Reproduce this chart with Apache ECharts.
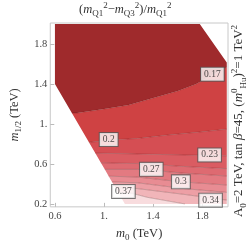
<!DOCTYPE html>
<html><head><meta charset="utf-8">
<script src="https://cdn.jsdelivr.net/npm/echarts@6/dist/echarts.min.js"></script>
<style>html,body{margin:0;padding:0;background:#fff}#c{width:249px;height:247px}</style>
</head><body><div id="c"></div>
<script>
// ---- data (TeV) ----
const xTicks = [0.6, 1.0, 1.4, 1.8];
const yTicks = [0.2, 0.6, 1.0, 1.4, 1.8];
const contourLevels = [0.17, 0.20, 0.23, 0.25, 0.27, 0.30, 0.32, 0.34, 0.37];
const c017 = [[0.55,1.11],[0.78,1.11],[1.0,1.15],[1.2,1.19],[1.4,1.26],[1.6,1.33],[1.75,1.40],[1.88,1.49],[2.05,1.60]];
const c020 = [[0.55,0.81],[0.86,0.815],[1.12,0.845],[1.27,0.855],[1.52,0.89],[1.78,0.92],[2.05,0.955]];
const c023 = [[0.55,0.71],[0.89,0.71],[1.27,0.70],[1.65,0.69],[2.05,0.68]];
const c025 = [[0.55,0.615],[0.94,0.613],[1.27,0.604],[1.65,0.575],[2.05,0.55]];
const c027 = [[0.55,0.55],[0.97,0.546],[1.27,0.546],[1.385,0.537],[1.65,0.508],[2.05,0.475]];
const c030 = [[0.55,0.48],[1.01,0.479],[1.27,0.469],[1.63,0.421],[2.05,0.385]];
const c032 = [[0.55,0.42],[1.045,0.421],[1.27,0.412],[1.65,0.354],[2.05,0.31]];
const c034 = [[0.55,0.365],[1.075,0.363],[1.27,0.354],[1.65,0.296],[2.05,0.23]];
const c037 = [[0.55,0.32],[1.1,0.315],[1.23,0.306],[1.35,0.267],[1.57,0.219],[1.8,0.17],[2.05,0.12]];
const contours = [c017, c020, c023, c025, c027, c030, c032, c034, c037];
const domain = [[0.6,2.0],[1.78,2.0],[2.0,1.615],[2.0,0.2],[1.17,0.2],[0.6,1.4]];
const topEdge = [[0.5,2.1],[2.1,2.1]];
const bottomEdge = [[0.5,0.05],[2.1,0.05]];
const bandColors = ['#9f2a2c','#cf4243','#d54e53','#da5c62','#de6a71','#e37a81','#e88c93','#ed9fa5','#f1b5b9','#f8dcde'];
const labelTexts = ['0.17','0.2','0.23','0.27','0.3','0.34','0.37'];
const labelPoints = [[1.883,1.498],[1.038,0.844],[1.86,0.69],[1.385,0.546],[1.626,0.421],[1.868,0.238],[1.158,0.325]];

// ---- geometry helpers (pixel space) ----
function makeSide(poly){
  let a = 0;
  for (let i=0;i<poly.length;i++){const p=poly[i],q=poly[(i+1)%poly.length];a+=p[0]*q[1]-q[0]*p[1];}
  const s = a>0?1:-1;
  return (A,B,P)=> s*((B[0]-A[0])*(P[1]-A[1])-(B[1]-A[1])*(P[0]-A[0]));
}
function clipPoly(subject, clip){
  const side = makeSide(clip);
  let out = subject;
  for (let i=0;i<clip.length;i++){
    const A=clip[i],B=clip[(i+1)%clip.length];
    const inp=out; out=[];
    if(!inp.length) break;
    for(let j=0;j<inp.length;j++){
      const P=inp[j],Q=inp[(j+1)%inp.length];
      const fp=side(A,B,P),fq=side(A,B,Q);
      if(fp>=0) out.push(P);
      if((fp>=0)!==(fq>=0)){const t=fp/(fp-fq);out.push([P[0]+t*(Q[0]-P[0]),P[1]+t*(Q[1]-P[1])]);}
    }
  }
  return out;
}
function clipLine(pts, clip){
  const side = makeSide(clip);
  const runs=[]; let cur=null;
  for(let k=0;k<pts.length-1;k++){
    const P=pts[k],Q=pts[k+1]; let t0=0,t1=1,ok=true;
    for(let i=0;i<clip.length;i++){
      const A=clip[i],B=clip[(i+1)%clip.length];
      const f0=side(A,B,P),f1=side(A,B,Q);
      if(f0<0&&f1<0){ok=false;break;}
      if(f0>=0&&f1>=0) continue;
      const t=f0/(f0-f1);
      if(f0<0) t0=Math.max(t0,t); else t1=Math.min(t1,t);
      if(t0>t1){ok=false;break;}
    }
    if(!ok){cur=null;continue;}
    const S=[P[0]+t0*(Q[0]-P[0]),P[1]+t0*(Q[1]-P[1])], E=[P[0]+t1*(Q[0]-P[0]),P[1]+t1*(Q[1]-P[1])];
    if(cur && Math.hypot(cur[cur.length-1][0]-S[0],cur[cur.length-1][1]-S[1])<1e-6){cur.push(E);}
    else {cur=[S,E];runs.push(cur);}
  }
  return runs;
}

const F = 'Liberation Serif';
const tickFmt = v => Math.abs(v-1)<1e-9 ? '1.' : v.toFixed(1);
const rich = (fs)=>({
  i:{fontFamily:F,fontStyle:'italic',fontWeight:'normal',fontSize:fs,lineHeight:fs+5,color:'#333'},
  r:{fontFamily:F,fontWeight:'normal',fontSize:fs,lineHeight:fs+5,color:'#333'},
  b:{fontFamily:F,fontStyle:'italic',fontWeight:'normal',fontSize:fs,lineHeight:fs+5,color:'#333'},
  sb:{fontFamily:F,fontWeight:'normal',fontSize:Math.round(fs*0.68),lineHeight:Math.round(fs*0.72),verticalAlign:'bottom',color:'#333'},
  sp:{fontFamily:F,fontWeight:'normal',fontSize:Math.round(fs*0.68),lineHeight:Math.round(fs*0.72),verticalAlign:'top',color:'#333'}
});

const chart = echarts.init(document.getElementById('c'), null, {renderer:'canvas'});
chart.setOption({
  animation:false,
  title:{left:79,top:1,padding:0,
    text:'{r|(}{i|m}{sb|Q1}{sp|2}{r|−}{i|m}{sb|Q3}{sp|2}{r|)/}{i|m}{sb|Q1}{sp|2}',
    textStyle:{fontWeight:'normal',rich:rich(12.5)}},
  grid:{left:36,right:21,top:23,bottom:34,show:true,borderColor:'#c8c8c8',borderWidth:1},
  xAxis:{type:'value',min:0.562,max:2.01,
    name:'{i|m}{sb|0}{r| (TeV)}',nameLocation:'middle',nameGap:17,nameTextStyle:{rich:rich(12.5)},
    axisLine:{show:false},
    axisTick:{show:true,inside:true,length:4,lineStyle:{color:'#bbb'},customValues:xTicks},
    axisLabel:{customValues:xTicks,formatter:tickFmt,fontFamily:F,fontSize:10.5,color:'#444',margin:4},
    splitLine:{show:false}},
  yAxis:{type:'value',min:0.171,max:2.01,
    name:'{i|m}{sb|1/2}{r| (TeV)}',nameLocation:'middle',nameGap:26,nameTextStyle:{rich:rich(12.5)},
    axisLine:{show:false},
    axisTick:{show:true,inside:true,length:4,lineStyle:{color:'#bbb'},customValues:yTicks},
    axisLabel:{customValues:yTicks,formatter:tickFmt,fontFamily:F,fontSize:10.5,color:'#444',margin:3},
    splitLine:{show:false}},
  graphic:[
    {type:'text',x:239,y:121,rotation:Math.PI/2,style:{text:'{r|A}{sb|0}{r|=2 TeV, tan }{b|β}{r|=45, (}{i|m}{sp|0}{sb|Hu}{r|)}{sp|2}{r|=1 TeV}{sp|2}',
      rich:(function(){const r=rich(13);Object.values(r).forEach(s=>{s.fill=s.color;});return r;})(),align:'center',verticalAlign:'middle'}}
  ],
  series:[
    {type:'custom',coordinateSystem:'cartesian2d',silent:true,z:2,
      data:bandColors.map((c,i)=>[1,1,i]),
      renderItem:(params,api)=>{
        const i=api.value(2);
        const upper = i===0?topEdge:contours[i-1];
        const lower = i===contours.length?bottomEdge:contours[i];
        const pts = upper.map(p=>api.coord(p)).concat(lower.slice().reverse().map(p=>api.coord(p)));
        const dom = domain.map(p=>api.coord(p));
        const poly = clipPoly(pts,dom);
        return {type:'polygon',shape:{points:poly},style:{fill:bandColors[i]}};
      }},
    {type:'custom',coordinateSystem:'cartesian2d',silent:true,z:3,
      data:contours.map((c,i)=>[1,1,i]),
      renderItem:(params,api)=>{
        const k=api.value(2);
        const dom = domain.map(p=>api.coord(p));
        const runs = clipLine(contours[k].map(p=>api.coord(p)),dom);
        return {type:'group',children:runs.map(r=>({type:'polyline',shape:{points:r},style:{stroke:'rgba(70,10,10,0.32)',lineWidth:0.8,fill:null}}))};
      }},
    {type:'scatter',z:5,symbolSize:0,silent:true,
      data:labelPoints,
      label:{show:true,position:'inside',formatter:p=>labelTexts[p.dataIndex],
        fontFamily:F,fontSize:9.5,color:'#222',backgroundColor:'#fff',borderColor:'#555',borderWidth:1,padding:[2,3,1,3]}}
  ]
});
</script></body></html>
